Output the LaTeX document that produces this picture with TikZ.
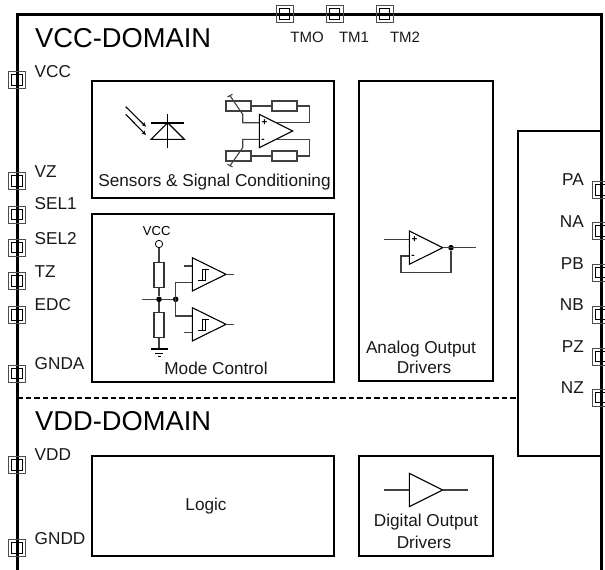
\documentclass[tikz,border=0pt]{standalone}
\usepackage{fontspec}
\usetikzlibrary{arrows.meta}
\setmainfont{Liberation Sans}
\begin{document}
\begin{tikzpicture}[x=1pt,y=-1pt,
  lab/.style={inner sep=0pt,font=\fontsize{17.2}{19}\selectfont,text=black!90},
  tmlab/.style={inner sep=0pt,font=\fontsize{15}{17}\selectfont,text=black!90},
  domtitle/.style={inner sep=0pt,anchor=west,font=\fontsize{27.3}{30}\selectfont},
  blk/.style={draw,line width=1.3pt,inner sep=0pt,minimum width=#1},
  wire/.style={line width=1.1pt,draw=black!75},
  sym/.style={line width=1.1pt,draw=black},
  sgn/.style={font=\fontsize{10}{10}\selectfont\bfseries,inner sep=0pt},
  dotc/.style={circle,fill=black,inner sep=0pt,minimum size=5.6pt}]
\useasboundingbox (0,0) rectangle (605,570);
\fill[white] (0,0) rectangle (605,570);
\newcommand{\padat}[3]{%
  \node[draw=black!70,line width=0.9pt,minimum width=17pt,minimum height=17pt,inner sep=0pt] (#1) at (#2,#3) {};
  \node[draw=black,line width=1pt,minimum width=10.5pt,minimum height=10.5pt,inner sep=0pt] at (#2,#3) {};}
% right block (under the frame)
\node[blk=83pt,minimum height=325pt] (drv) at (559.5,293.5) {};
% frame
\draw[line width=3pt] (17.5,570) -- (17.5,14) -- (601,14) -- (601,570);
% dashed boundary
\coordinate (dl) at (17,398);
\draw[line width=1.2pt,dash pattern=on 5.5pt off 3pt] (dl) -- (drv.west |- dl);
% pads
\foreach \n/\y in {vcc/80,vz/181,sela/214.5,selb/247.5,tz/281,edc/315,gnda/373.5,vdd/465,gndd/548}{\padat{p\n}{17}{\y}}
\foreach \n/\y in {pa/190,na/231,pb/272.5,nb/314.5,pz/356.5,nz/397.5}{\padat{p\n}{601}{\y}}
\foreach \n/\x in {tmo/284.5,tma/334.5,tmb/384.5}{\padat{p\n}{\x}{14}}
% domain titles
\node[domtitle] (tvcc) at (35,38) {VCC-DOMAIN};
\node[domtitle] (tvdd) at (35,421) {VDD-DOMAIN};
% pin labels
\foreach \t/\y in {VCC/72,VZ/171.5,SEL1/204,SEL2/239,TZ/272,EDC/305,GNDA/364,VDD/455,GNDD/539}{\node[lab,anchor=west] at (34.5,\y) {\t};}
\foreach \t/\y in {PA/180,NA/221.5,PB/264,NB/305,PZ/346.5,NZ/388}{\node[lab,anchor=east] at (584,\y) {\t};}
\node[tmlab] (ttmo) at (307,37) {TMO};
\node[tmlab] (ttma) at (354,37) {TM1};
\node[tmlab] (ttmb) at (405,37) {TM2};
% blocks
\node[blk=242pt,minimum height=117pt] (sens) at (213,139.5) {};
\node[blk=242pt,minimum height=168pt] (mode) at (213,298) {};
\node[blk=134pt,minimum height=300pt] (analog) at (426,231) {};
\node[blk=242pt,minimum height=100pt] (logic) at (213,506) {};
\node[blk=134pt,minimum height=100pt] (digi) at (426,506) {};
\node[lab] (tsens) at (214.5,182) {Sensors \& Signal Conditioning};
\node[lab] (tmode) at (216,368.5) {Mode Control};
\node[lab] (tanaa) at (421,349) {Analog Output};
\node[lab] (tanab) at (424,367) {Drivers};
\node[lab] (tlog) at (206,506.5) {Logic};
\node[lab] (tdiga) at (426,522) {Digital Output};
\node[lab] (tdigb) at (424,542) {Drivers};
% photodiode
\draw[sym,-{Stealth[length=4.5pt,width=4pt,open]}] (125.7,106.7) -- (146,126.7);
\draw[sym,-{Stealth[length=4.5pt,width=4pt,open]}] (125.7,114.3) -- (146,135);
\draw[line width=2.4pt] (151,122.7) -- (184.3,122.7);
\draw[sym] (167.7,122.7) -- (151,139.3) -- (184.3,139.3) -- cycle;
\draw[sym] (167.7,114.3) -- (167.7,147.7);
% conditioning amplifier
\draw[sym] (259.3,114.3) -- (259.3,147.7) -- (292.7,131) -- cycle;
\node[sgn] at (264.5,122.7) {+};
\node[sgn] at (263,140.5) {-};
\foreach \x/\y in {226/101,272/101,226/151,272/151}{\draw[wire] (\x,\y) rectangle +(25,10);}
\draw[wire] (251,106) -- (272,106) (297,106) -- (309.3,106) -- (309.3,122.7) -- (276,122.7);
\draw[wire] (259.3,122.7) -- (242.7,122.7) -- (242.7,114.3) -- (230,95.7);
\draw[wire] (227.5,97) -- (232.5,94.3);
\draw[wire] (251,156) -- (272,156) (297,156) -- (309.3,156) -- (309.3,139.3) -- (276,139.3);
\draw[wire] (259.3,139.3) -- (242.7,139.3) -- (242.7,147.7) -- (230,165.7);
\draw[wire] (227.5,164.3) -- (232.5,167);
% mode control
\node[font=\fontsize{13}{13}\selectfont,inner sep=0pt] (tv) at (156.7,231.5) {VCC};
\node[draw,circle,line width=0.8pt,minimum size=7.4pt,inner sep=0pt] (vc) at (159,244) {};
\node[draw=black!80,line width=1.1pt,minimum width=10pt,minimum height=25pt,inner sep=0pt] (ra) at (159,274.8) {};
\node[draw=black!80,line width=1.1pt,minimum width=10pt,minimum height=25pt,inner sep=0pt] (rb) at (159,324.8) {};
\node[dotc] (da) at (159,299.3) {};
\node[dotc] (db) at (175.7,299.3) {};
\coordinate (gnd) at (159,349.3);
\draw[wire] (vc) -- (ra);
\draw[wire] (ra) -- (da);
\draw[wire] (da) -- (rb);
\draw[wire] (rb) -- (gnd);
\draw[wire] (142.3,299.3) -- (da) -- (db);
\draw[line width=1.8pt] (151,349.3) -- (167.7,349.3);
\draw[line width=1.5pt] (155,353.3) -- (163.3,353.3);
\draw[line width=1.5pt] (157.5,356.7) -- (160.5,356.7);
\foreach \y in {0,50}{
  \begin{scope}[yshift=-\y pt]
    \draw[sym] (192.3,257.7) -- (192.3,291) -- (226,274.3) -- cycle;
    \draw[wire] (226,274.3) -- (234.3,274.3);
    \draw[line width=0.8pt] (198.3,280) -- (205,280) -- (205,269) (202.3,280) -- (202.3,269) -- (209,269);
  \end{scope}}
\draw[wire] (184.3,266) -- (192.3,266);
\draw[wire] (184.3,332.7) -- (192.3,332.7);
\draw[wire] (192.3,282.7) -- (175.7,282.7) -- (175.7,316) -- (192.3,316);
% analog driver
\draw[sym] (409.3,231) -- (409.3,264.3) -- (442.7,247.7) -- cycle;
\node[sgn] at (414.5,239.5) {+};
\node[sgn] at (413,257) {-};
\node[dotc] (fb) at (451,247.7) {};
\draw[wire] (384.3,239.3) -- (409.3,239.3);
\draw[wire] (442.7,247.7) -- (476,247.7);
\draw[wire] (fb) -- (451,272.7) -- (401,272.7) -- (401,256) -- (409.3,256);
% digital driver
\draw[sym] (409.3,473.3) -- (409.3,506.7) -- (442.7,490) -- cycle;
\draw[wire] (384.3,490) -- (409.3,490);
\draw[wire] (442.7,490) -- (467.7,490);
\end{tikzpicture}
\end{document}
